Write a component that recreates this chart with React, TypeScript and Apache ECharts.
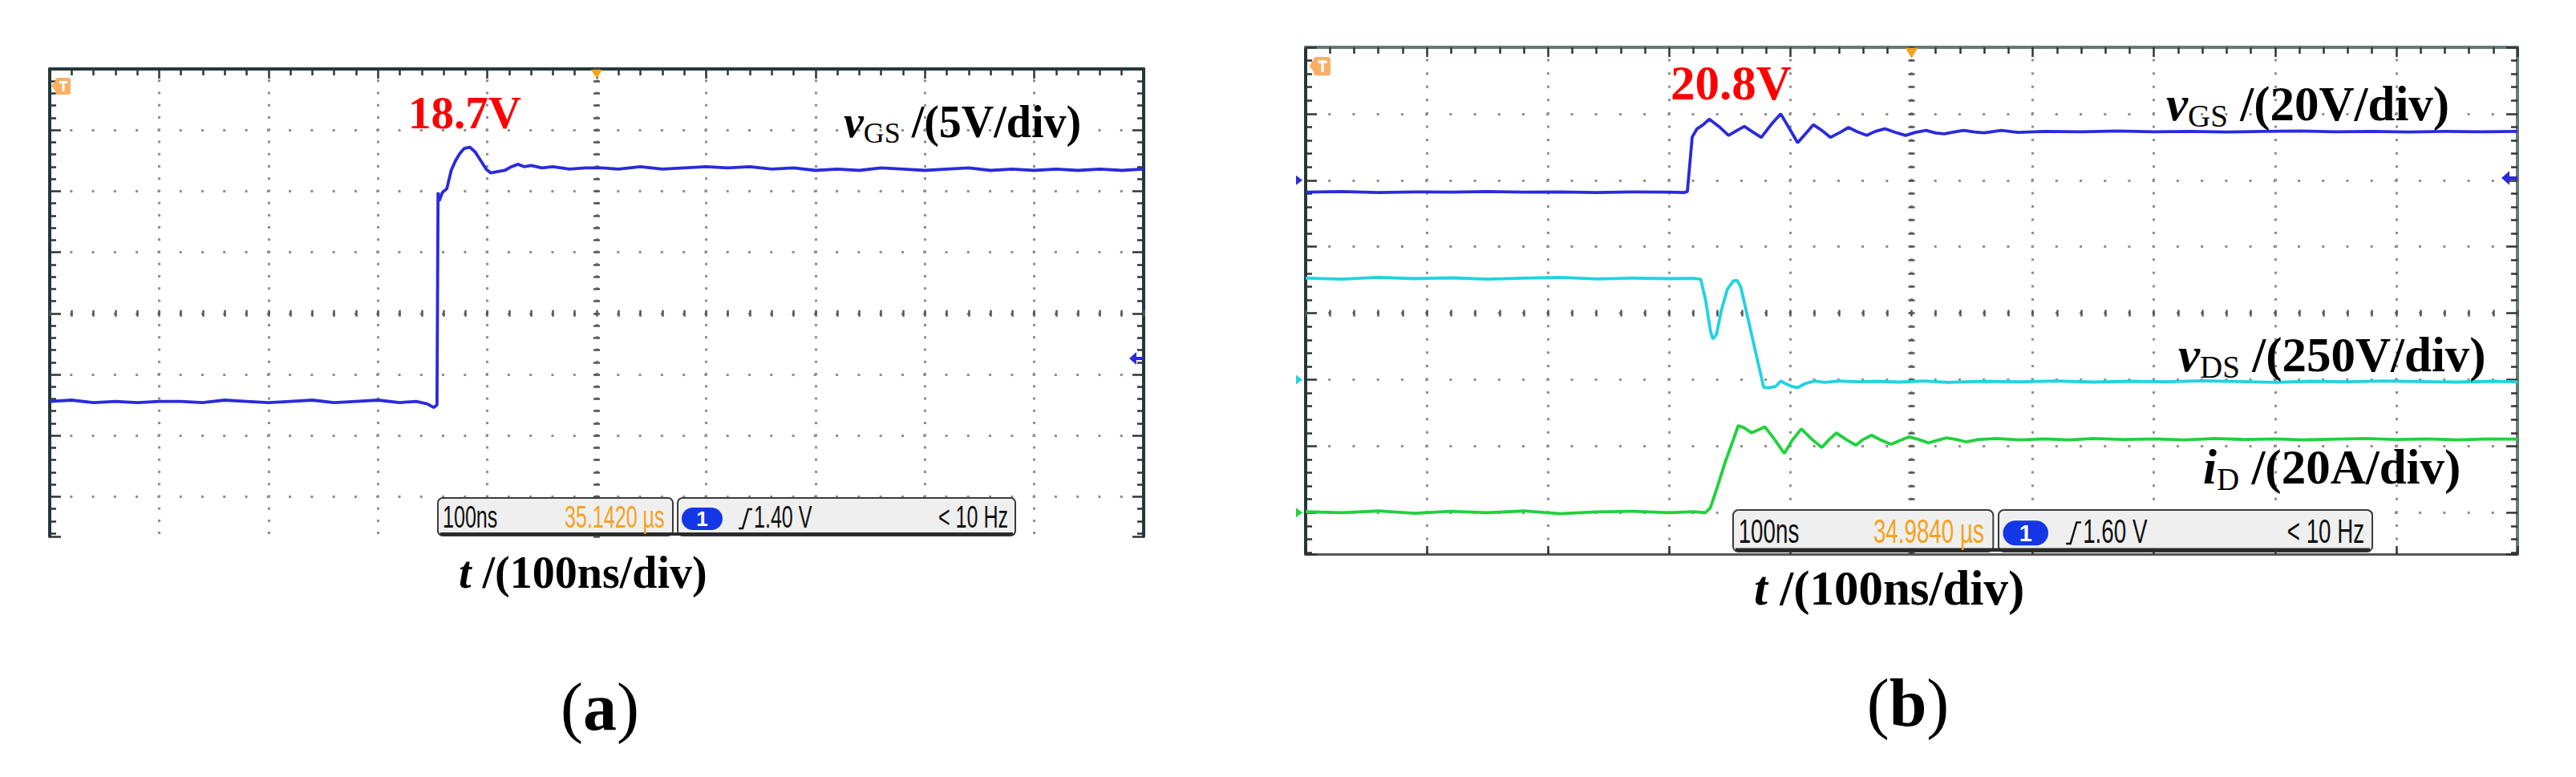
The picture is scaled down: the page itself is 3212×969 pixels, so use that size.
import React, { useEffect, useRef } from 'react';
import * as echarts from 'echarts';

const SERIF = "'Liberation Serif', 'Times New Roman', Times, serif";
const SANS = "'Liberation Sans', Arial, Helvetica, sans-serif";

// time axis (ns): 100 ns/div, 10 divisions, trigger at centre
const T_MIN = -500;
const T_MAX = 500;
const T_DIV = 100;

// ---------- (a) vGS, 5 V/div : [t ns, V] ----------
const vgsA: number[][] = [
  [-500, -2.1], [-480, -2.0], [-460, -2.2], [-440, -2.1], [-420, -2.2], [-400, -2.1], [-380, -2.1],
  [-360, -2.2], [-340, -2.0], [-320, -2.1], [-300, -2.2], [-280, -2.1], [-260, -2.0], [-240, -2.2],
  [-220, -2.1], [-200, -2.0], [-180, -2.2], [-165, -2.1], [-155, -2.3], [-149, -2.6], [-146, -2.4],
  [-145, 15.0], [-144, 14.3], [-141, 15.0], [-137, 15.3], [-133, 16.8], [-129, 17.6], [-125, 18.2],
  [-121, 18.6], [-116, 18.7], [-111, 18.3], [-106, 17.6], [-101, 16.9], [-97, 16.6], [-91, 16.7],
  [-84, 16.8], [-78, 17.1], [-72, 17.3], [-66, 17.1], [-60, 17.2], [-50, 17.0], [-40, 17.1],
  [-25, 16.9], [-10, 17.0], [5, 17.0], [20, 16.9], [40, 17.1], [60, 16.9], [80, 17.0], [100, 17.1],
  [120, 17.0], [140, 17.1], [160, 16.9], [180, 17.0], [200, 16.8], [220, 16.9], [240, 16.8],
  [260, 17.0], [280, 16.9], [300, 16.8], [320, 16.9], [340, 17.0], [360, 16.8], [380, 16.9],
  [400, 16.8], [420, 16.9], [440, 16.8], [460, 16.9], [480, 16.8], [500, 16.9],
];

// ---------- (b) vGS 20 V/div, vDS 250 V/div, iD 20 A/div ----------
const vgsB: number[][] = [
  [-500, -2.8], [-470, -2.6], [-440, -2.9], [-410, -2.7], [-380, -2.8], [-350, -2.6], [-320, -2.8],
  [-290, -2.7], [-260, -2.9], [-230, -2.7], [-200, -2.8], [-188, -2.9], [-185, -2.6], [-181, 13.8],
  [-177, 16.3], [-172, 17.5], [-167, 19.2], [-159, 17.0], [-151, 14.3], [-144, 15.8], [-138, 17.0],
  [-131, 15.3], [-124, 13.7], [-116, 17.5], [-108, 20.8], [-101, 16.5], [-94, 12.1], [-87, 15.0],
  [-81, 17.5], [-74, 15.8], [-67, 13.7], [-59, 15.2], [-52, 16.7], [-45, 15.4], [-37, 14.3],
  [-30, 15.5], [-22, 16.3], [-14, 15.3], [-5, 14.3], [3, 15.2], [12, 15.8], [20, 15.0], [27, 14.8],
  [35, 15.3], [43, 15.8], [52, 15.3], [60, 15.1], [74, 15.8], [88, 15.2], [110, 15.5], [140, 15.4],
  [170, 15.6], [200, 15.4], [230, 15.5], [260, 15.3], [290, 15.5], [320, 15.6], [350, 15.4],
  [380, 15.5], [410, 15.3], [440, 15.5], [470, 15.4], [500, 15.5],
];

const vdsB: number[][] = [
  [-500, 382], [-470, 378], [-440, 385], [-410, 380], [-380, 383], [-350, 378], [-320, 382],
  [-290, 385], [-260, 379], [-230, 382], [-200, 380], [-180, 381], [-174, 378], [-170, 300],
  [-166, 185], [-164, 153], [-161, 170], [-157, 260], [-152, 340], [-147, 372], [-144, 373],
  [-141, 350], [-135, 230], [-128, 90], [-122, -29], [-117, -30], [-112, -25], [-108, -5],
  [-104, -15], [-99, -25], [-94, -30], [-88, -15], [-80, -5], [-72, -10], [-60, -5], [-45, -8],
  [-30, -6], [-10, -9], [10, -5], [30, -10], [60, -6], [90, -8], [120, -5], [150, -9], [180, -6],
  [210, -8], [240, -4], [270, -7], [300, -10], [330, -6], [360, -8], [390, -5], [420, -7],
  [450, -9], [480, -6], [500, -8],
];

const idB: number[][] = [
  [-500, 0.3], [-470, 0], [-440, 0.5], [-410, -0.2], [-380, 0.4], [-350, 0], [-320, 0.5],
  [-290, -0.3], [-260, 0.2], [-230, 0.4], [-200, 0], [-180, 0.3], [-170, 0], [-166, 1.5],
  [-160, 8], [-154, 15], [-148, 21], [-143, 26.2], [-138, 25.5], [-132, 24.0], [-126, 25.0],
  [-121, 25.8], [-113, 22], [-105, 17.8], [-98, 22], [-91, 25.2], [-82, 22], [-74, 19.6],
  [-68, 22], [-62, 24.0], [-54, 22], [-46, 20.3], [-40, 22], [-33, 23.3], [-25, 21.8],
  [-17, 20.6], [-9, 21.8], [-2, 22.8], [6, 22], [14, 21.0], [22, 21.8], [29, 22.5], [37, 22.0],
  [45, 21.3], [55, 22.0], [70, 22.3], [90, 21.9], [110, 22.2], [130, 21.9], [150, 22.3],
  [175, 22.0], [200, 22.2], [225, 21.9], [250, 22.3], [275, 22.0], [300, 22.2], [325, 21.9],
  [350, 22.1], [375, 22.3], [400, 22.0], [425, 22.2], [450, 21.9], [475, 22.2], [500, 22.1],
];

// channel scales (units per division) and ground position (divisions from top)
const chA = { perDiv: 5, groundDiv: 5.02 };
const chBgs = { perDiv: 20, groundDiv: 2.04 };
const chBds = { perDiv: 250, groundDiv: 5.0 };
const chBid = { perDiv: 20, groundDiv: 7.0 };

// texts
const peakA = '18.7V';
const peakB = '20.8V';
const infoA = ['100ns', '35.1420 µs', '1', '1.40 V', '< 10 Hz'];
const infoB = ['100ns', '34.9840 µs', '1', '1.60 V', '< 10 Hz'];

// colours
const BLUE = '#2a2ade';
const CYAN = '#1fd3e3';
const GREEN = '#1fd23c';

// layout of the two scope screens
const PA = { left: 62, top: 86, width: 1364, height: 583, divY: 76.2 };
const PB = { left: 1628, top: 59, width: 1511, height: 632, divY: 82.9 };

function xAxesFor(gi: number, P: any, topColor: string, withBottom: boolean) {
  const base = { type: 'value', gridIndex: gi, min: T_MIN, max: T_MAX, interval: T_DIV, axisLabel: { show: false } };
  const arr: any[] = [
    {
      ...base, position: 'top',
      axisLine: { show: true, onZero: false, lineStyle: { color: topColor, width: 4 } },
      axisTick: { show: true, inside: true, length: 12, lineStyle: { color: '#333', width: 2.5 } },
      minorTick: { show: true, splitNumber: 5, length: 8, lineStyle: { color: '#333', width: 2.5 } },
      splitLine: { show: true, lineStyle: { color: '#8e8e8e', width: 3, type: [3, P.divY / 5 - 3], dashOffset: 1.5 } },
    },
    {
      ...base, position: 'top', offset: -(4 * P.divY + 4),
      axisLine: { show: false, onZero: false },
      axisTick: { show: true, inside: false, length: 8, lineStyle: { color: '#555', width: 2.5 } },
      minorTick: { show: true, splitNumber: 5, length: 8, lineStyle: { color: '#555', width: 2.5 } },
      splitLine: { show: false },
    },
  ];
  if (withBottom) {
    arr.push({
      ...base, position: 'bottom',
      axisLine: { show: true, onZero: false, lineStyle: { color: '#555', width: 3 } },
      axisTick: { show: true, inside: true, length: 10, lineStyle: { color: '#333', width: 2.5 } },
      minorTick: { show: false },
      splitLine: { show: false },
    });
  }
  return arr;
}

function yAxesFor(gi: number, P: any, leftColor: string, rightColor: string, hideMax: boolean) {
  const nDiv = P.height / P.divY;
  const divX = P.width / 10;
  const base = { type: 'value', gridIndex: gi, inverse: true, min: 0, max: nDiv, interval: 1, axisLabel: { show: false } };
  return [
    {
      ...base, position: 'left',
      axisLine: { show: true, onZero: false, lineStyle: { color: leftColor, width: 4 } },
      axisTick: { show: true, inside: true, length: 14, lineStyle: { color: '#333', width: 2.5 } },
      minorTick: { show: true, splitNumber: 5, length: 8, lineStyle: { color: '#333', width: 2.5 } },
      splitLine: { show: true, showMaxLine: !hideMax, lineStyle: { color: '#8e8e8e', width: 3, type: [3, divX / 5 - 3], dashOffset: 1.5 } },
    },
    {
      ...base, position: 'right',
      axisLine: { show: true, onZero: false, lineStyle: { color: rightColor, width: 4 } },
      axisTick: { show: true, inside: true, length: 14, lineStyle: { color: '#333', width: 2.5 } },
      minorTick: { show: true, splitNumber: 5, length: 8, lineStyle: { color: '#333', width: 2.5 } },
      splitLine: { show: false },
    },
    {
      ...base, position: 'left', offset: -(5 * divX + 4),
      axisLine: { show: false, onZero: false },
      axisTick: { show: true, inside: false, length: 8, lineStyle: { color: '#555', width: 2.5 } },
      minorTick: { show: true, splitNumber: 5, length: 8, lineStyle: { color: '#555', width: 2.5 } },
      splitLine: { show: false },
    },
  ];
}

function dataAxis(gi: number, P: any, ch: { perDiv: number; groundDiv: number }) {
  const nDiv = P.height / P.divY;
  const max = ch.groundDiv * ch.perDiv;
  return { type: 'value', gridIndex: gi, show: false, min: max - nDiv * ch.perDiv, max, axisLine: { onZero: false } };
}

function chLabel(x: number, y: number, S: number, main: string, sub: string, rest: string) {
  return {
    type: 'text', x, y, z: 40, silent: true,
    style: {
      text: `{v|${main}}{s|${sub}}{n|${rest}}`,
      align: 'left', verticalAlign: 'middle',
      fontFamily: SERIF, fontSize: S, fontWeight: 'bold', fill: '#000',
      rich: {
        v: { fontFamily: SERIF, fontSize: S, fontStyle: 'italic', fontWeight: 'bold', fill: '#000', lineHeight: S * 1.15 },
        s: { fontFamily: SERIF, fontSize: S * 0.64, fontWeight: 'normal', fill: '#000', lineHeight: S * 0.7, padding: [S * 0.5, 0, 0, 0] },
        n: { fontFamily: SERIF, fontSize: S, fontWeight: 'bold', fill: '#000', lineHeight: S * 1.15 },
      },
    },
  };
}

function timeLabel(x: number, y: number, S: number) {
  return {
    type: 'text', x, y, z: 40, silent: true,
    style: {
      text: '{i|t}{n| /(100ns/div)}', align: 'left', verticalAlign: 'middle',
      fontFamily: SERIF, fontSize: S, fontWeight: 'bold', fill: '#000',
      rich: {
        i: { fontFamily: SERIF, fontSize: S, fontStyle: 'italic', fontWeight: 'bold', fill: '#000' },
        n: { fontFamily: SERIF, fontSize: S, fontWeight: 'bold', fill: '#000' },
      },
    },
  };
}

function caption(x: number, y: number, S: number, letter: string) {
  return {
    type: 'text', x, y, z: 40, silent: true,
    style: {
      text: `{p|(}{b|${letter}}{p|)}`, align: 'center', verticalAlign: 'middle',
      fontFamily: SERIF, fontSize: S, fill: '#000',
      rich: {
        p: { fontFamily: SERIF, fontSize: S, fontWeight: 'normal', fill: '#000' },
        b: { fontFamily: SERIF, fontSize: S, fontWeight: 'bold', fill: '#000' },
      },
    },
  };
}

function redLabel(x: number, y: number, S: number, text: string) {
  return {
    type: 'text', x, y, z: 40, silent: true,
    style: { text, align: 'left', verticalAlign: 'middle', fontFamily: SERIF, fontSize: S, fontWeight: 'bold', fill: '#ff0000' },
  };
}

// scope status bar, drawn in panel-(a) units and scaled by k
function infoBar(x0: number, y0: number, k: number, strs: string[]) {
  const h = 47 * k, w1 = 293 * k, gap = 6 * k, w2 = 421 * k;
  const fs = 38 * k;
  const cy = y0 + h / 2 + 1 * k;
  const x2 = x0 + w1 + gap;
  const t = (x: number, text: string, fill: string) => ({
    type: 'text', x, y: cy, scaleX: 0.66, z: 52, silent: true,
    style: { text, align: 'left', verticalAlign: 'middle', fontFamily: SANS, fontSize: fs, fill },
  });
  return [
    { type: 'rect', z: 50, silent: true, shape: { x: x0, y: y0, width: w1, height: h, r: 6 * k }, style: { fill: '#efefef', stroke: '#3a3a3a', lineWidth: 2 } },
    { type: 'rect', z: 50, silent: true, shape: { x: x2, y: y0, width: w2, height: h, r: 6 * k }, style: { fill: '#efefef', stroke: '#3a3a3a', lineWidth: 2 } },
    { type: 'rect', z: 51, silent: true, shape: { x: x0 + 3, y: y0 + h - 4 * k, width: w1 + gap + w2 - 6, height: 4 * k }, style: { fill: '#2a2a2a' } },
    t(x0 + 6 * k, strs[0], '#111'),
    t(x0 + 158 * k, strs[1], '#f4a21c'),
    { type: 'rect', z: 52, silent: true, shape: { x: x2 + 5 * k, y: y0 + 12 * k, width: 51 * k, height: 28 * k, r: 14 * k }, style: { fill: '#1437e6' } },
    {
      type: 'text', x: x2 + 30.5 * k, y: y0 + 26 * k, z: 53, silent: true,
      style: { text: strs[2], align: 'center', verticalAlign: 'middle', fontFamily: SANS, fontSize: 26 * k, fontWeight: 'bold', fill: '#fff' },
    },
    {
      type: 'polyline', z: 52, silent: true,
      shape: { points: [[x2 + 76 * k, y0 + 38 * k], [x2 + 81 * k, y0 + 38 * k], [x2 + 88 * k, y0 + 14 * k], [x2 + 93 * k, y0 + 14 * k]] },
      style: { stroke: '#111', lineWidth: 2.5, fill: null },
    },
    t(x2 + 95 * k, strs[3], '#111'),
    t(x2 + 325 * k, strs[4], '#111'),
  ];
}

function triggerIcon(x: number, y: number, k: number) {
  return [
    { type: 'polygon', z: 45, silent: true, shape: { points: [[x - 5 * k, y + 10 * k], [x, y + 3 * k], [x, y + 17 * k]] }, style: { fill: '#f8a24a', opacity: 0.85 } },
    { type: 'rect', z: 45, silent: true, shape: { x, y, width: 19 * k, height: 21 * k, r: 3 }, style: { fill: '#f8a24a', opacity: 0.85 } },
    { type: 'rect', z: 46, silent: true, shape: { x: x + 5 * k, y: y + 4 * k, width: 10 * k, height: 3 * k }, style: { fill: '#fff' } },
    { type: 'rect', z: 46, silent: true, shape: { x: x + 8.5 * k, y: y + 4 * k, width: 3 * k, height: 13 * k }, style: { fill: '#fff' } },
  ];
}

function topTriangle(cx: number, y: number, k: number) {
  return { type: 'polygon', z: 45, silent: true, shape: { points: [[cx - 7 * k, y], [cx + 7 * k, y], [cx, y + 11 * k]] }, style: { fill: '#f5a11c' } };
}

function rightArrow(xr: number, y: number, color: string, k: number) {
  return [
    { type: 'polygon', z: 45, silent: true, shape: { points: [[xr - 18 * k, y], [xr - 9 * k, y - 8 * k], [xr - 9 * k, y + 8 * k]] }, style: { fill: color } },
    { type: 'line', z: 45, silent: true, shape: { x1: xr - 10 * k, y1: y, x2: xr, y2: y }, style: { stroke: color, lineWidth: 4 } },
  ];
}

function leftMarker(xl: number, y: number, color: string) {
  return { type: 'polygon', z: 45, silent: true, shape: { points: [[xl - 12, y - 6], [xl - 4, y], [xl - 12, y + 6]] }, style: { fill: color } };
}

const line = (data: number[][], xi: number, yi: number, color: string) => ({
  type: 'line', data, xAxisIndex: xi, yAxisIndex: yi, showSymbol: false, symbol: 'none', silent: true,
  lineStyle: { color, width: 3.8 }, z: 5, clip: true,
});

export default function App() {
  const ref = useRef<HTMLDivElement>(null);
  useEffect(() => {
    if (!ref.current) return;
    const chart = echarts.init(ref.current, null, { renderer: 'svg' });
    const kB = 1.107;
    const cxA = PA.left + PA.width / 2;
    const cxB = PB.left + PB.width / 2;
    const option: any = {
      animation: false,
      backgroundColor: '#ffffff',
      grid: [
        { left: PA.left, top: PA.top, width: PA.width, height: PA.height, containLabel: false, outerBoundsMode: 'none' },
        { left: PB.left, top: PB.top, width: PB.width, height: PB.height, containLabel: false, outerBoundsMode: 'none' },
      ],
      xAxis: [
        ...xAxesFor(0, PA, '#22393a', false), // 0,1
        ...xAxesFor(1, PB, '#66787a', true), // 2,3,4
      ],
      yAxis: [
        ...yAxesFor(0, PA, '#22393a', '#22393a', true), // 0,1,2
        dataAxis(0, PA, chA), // 3
        ...yAxesFor(1, PB, '#22393a', '#66787a', false), // 4,5,6
        dataAxis(1, PB, chBgs), // 7
        dataAxis(1, PB, chBds), // 8
        dataAxis(1, PB, chBid), // 9
      ],
      series: [
        line(vgsA, 0, 3, BLUE),
        line(vgsB, 2, 7, BLUE),
        line(vdsB, 2, 8, CYAN),
        line(idB, 2, 9, GREEN),
      ],
      graphic: {
        elements: [
          // panel (a)
          ...triggerIcon(69, 97, 1),
          topTriangle(cxA, PA.top + 1, 1),
          ...rightArrow(PA.left + PA.width, 447, BLUE, 1),
          redLabel(509, 140, 57, peakA),
          chLabel(1052, 152, 56, 'v', 'GS', ' /(5V/div)'),
          ...infoBar(546, 621, 1, infoA),
          timeLabel(572, 714, 56),
          caption(748, 881, 84, 'a'),
          // panel (b)
          ...triggerIcon(1638, 71, kB),
          topTriangle(cxB, PB.top + 1, kB),
          ...rightArrow(PB.left + PB.width, 222, BLUE, kB),
          leftMarker(PB.left, PB.top + 2 * PB.divY, BLUE),
          leftMarker(PB.left, PB.top + 5 * PB.divY, CYAN),
          leftMarker(PB.left, PB.top + 7 * PB.divY, GREEN),
          redLabel(2083, 103, 61, peakB),
          chLabel(2701, 129, 61, 'v', 'GS', ' /(20V/div)'),
          chLabel(2716, 442, 61, 'v', 'DS', ' /(250V/div)'),
          chLabel(2747, 582, 61, 'i', 'D', ' /(20A/div)'),
          ...infoBar(2161, 636, kB, infoB),
          timeLabel(2187, 733, 61),
          caption(2379, 876, 84, 'b'),
        ],
      },
    };
    chart.setOption(option);
    return () => chart.dispose();
  }, []);
  return (
    <div
      ref={ref}
      style={{ position: 'fixed', left: 0, top: 0, width: 3212, height: 969, background: '#ffffff' }}
    />
  );
}
